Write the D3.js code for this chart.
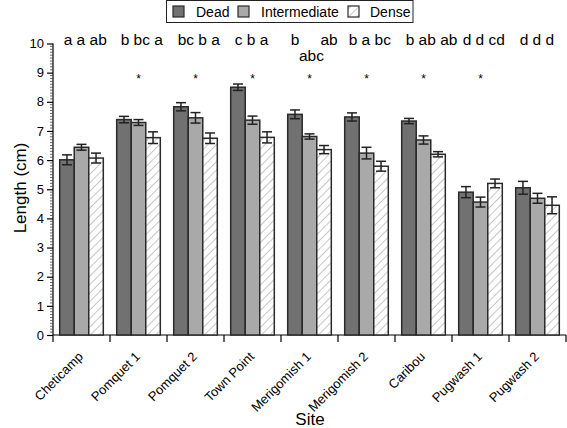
<!DOCTYPE html>
<html><head><meta charset="utf-8">
<script src="https://cdn.jsdelivr.net/npm/d3@7"></script>
<style>body{margin:0;background:#fff}svg{display:block;font-family:"Liberation Sans",Arial,sans-serif}</style>
</head><body><svg id="c" width="567" height="428"></svg>
<script>
const sites = ["Cheticamp","Pomquet 1","Pomquet 2","Town Point","Merigomish 1","Merigomish 2","Caribou","Pugwash 1","Pugwash 2"];
const seriesNames = ["Dead","Intermediate","Dense"];
const dead = [6.01,7.39,7.83,8.50,7.57,7.48,7.34,4.90,5.05];
const deadErr = [0.17,0.11,0.14,0.11,0.15,0.14,0.09,0.19,0.22];
const intermediate = [6.44,7.29,7.45,7.37,6.81,6.24,6.69,4.56,4.69];
const intermediateErr = [0.10,0.10,0.18,0.14,0.09,0.20,0.14,0.17,0.17];
const dense = [6.07,6.77,6.75,6.78,6.36,5.79,6.20,5.20,4.45];
const denseErr = [0.17,0.20,0.18,0.19,0.14,0.17,0.09,0.15,0.29];
const letters = [
  ["a","a","ab"],["b","bc","a"],["bc","b","a"],["c","b","a"],["b","abc","ab"],
  ["b","a","bc"],["b","ab","ab"],["d","d","cd"],["d","d","d"]];
// which letter (series index) sits on a second line, per site (-1 = none)
const lowered = [-1,-1,-1,-1,1,-1,-1,-1,-1];
const starred = [false,true,true,true,true,true,true,true,false];
const yTicks = [0,1,2,3,4,5,6,7,8,9,10];

const svg = d3.select("#c");
const defs = svg.append("defs");
const pat = defs.append("pattern").attr("id","hatch").attr("patternUnits","userSpaceOnUse")
  .attr("width",6).attr("height",6).attr("patternTransform","rotate(45)");
pat.append("rect").attr("width",6).attr("height",6).attr("fill","#fff");
pat.append("line").attr("x1",0).attr("y1",0).attr("x2",0).attr("y2",6).attr("stroke","#a0a0a0").attr("stroke-width",1.2);

const fills = ["#717171","#a9a9a9","url(#hatch)"];
const vals = [dead,intermediate,dense];
const errs = [deadErr,intermediateErr,denseErr];

const X0 = 53, X1 = 566;
const x0 = d3.scaleBand().domain(sites).range([X0,X1]).paddingInner(0.235).paddingOuter(0.1175);
const band = d3.scaleBand().domain(seriesNames).range([0,x0.bandwidth()]);
const xb = d3.scaleBand().domain(sites).range([X0,X1]);
const y = d3.scaleLinear().domain([0,10]).range([335,43.5]);

// y axis
const ya = svg.append("g").attr("transform",`translate(${X0},0)`)
  .call(d3.axisLeft(y).tickValues(yTicks).tickSize(6).tickFormat(d3.format("d")));
ya.select(".domain").attr("stroke","#000").attr("stroke-width",1.2).attr("d",`M0,${y(10)}V${y(0)}`);
ya.selectAll("text").attr("font-size",13).attr("font-family","Liberation Sans, Arial").attr("fill","#000");
ya.selectAll("line").attr("stroke","#000").attr("stroke-width",1.2);
const minor = d3.range(0,100).map(i=>i/10).filter(v=>Math.abs(v-Math.round(v))>1e-6);
svg.append("g").selectAll("line").data(minor).join("line")
  .attr("x1",X0-3).attr("x2",X0).attr("y1",d=>y(d)).attr("y2",d=>y(d))
  .attr("stroke","#444").attr("stroke-width",0.8);

// x axis
const xa = svg.append("g").attr("transform","translate(0,335)");
xa.append("line").attr("x1",X0).attr("x2",X1).attr("stroke","#000").attr("stroke-width",1.2);
const bounds = sites.map(s=>xb(s)).concat([X1]);
xa.selectAll("line.t").data(bounds).join("line").attr("class","t")
  .attr("x1",d=>d).attr("x2",d=>d).attr("y1",0).attr("y2",7).attr("stroke","#000").attr("stroke-width",1.2);
xa.selectAll("text").data(sites).join("text")
  .attr("transform",d=>`translate(${xb(d)+xb.bandwidth()/2-4},${16}) rotate(-45)`)
  .attr("text-anchor","end").attr("dy","0.7em").attr("font-size",13).text(d=>d);

// bars
sites.forEach((s,i)=>{
  const g = svg.append("g").attr("transform",`translate(${x0(s)},0)`);
  seriesNames.forEach((n,k)=>{
    const v = vals[k][i], e = errs[k][i];
    const bx = band(n), bw = band.bandwidth(), cx = bx+bw/2;
    g.append("rect").attr("x",bx).attr("y",y(v)).attr("width",bw).attr("height",y(0)-y(v))
      .attr("fill",fills[k]).attr("stroke","#2a2a2a").attr("stroke-width",1.5);
    g.append("line").attr("x1",cx).attr("x2",cx).attr("y1",y(v+e)).attr("y2",y(v-e)).attr("stroke","#222").attr("stroke-width",1.5);
    [v+e,v-e].forEach(t=>g.append("line").attr("x1",cx-5).attr("x2",cx+5).attr("y1",y(t)).attr("y2",y(t)).attr("stroke","#222").attr("stroke-width",1.5));
  });
  // significance letters
  if(lowered[i] < 0){
    g.append("text").attr("x",4).attr("y",45).attr("font-size",15.5)
      .text(letters[i].join(" "));
  } else {
    seriesNames.forEach((n,k)=>{
      const cx = band(n)+band.bandwidth()/2;
      const low = k===lowered[i];
      g.append("text").attr("x",cx+(low?2:(k===2?5:0))).attr("y",low?61:45)
        .attr("text-anchor","middle").attr("font-size",15.5).text(letters[i][k]);
    });
  }
  if(starred[i]) svg.append("text").attr("x",xb(s)+xb.bandwidth()/2).attr("y",83)
    .attr("text-anchor","middle").attr("font-size",12).text("*");
});

// axis titles
svg.append("text").attr("transform","translate(26,188) rotate(-90)").attr("text-anchor","middle")
  .attr("font-size",17).text("Length (cm)");
svg.append("text").attr("x",310).attr("y",425).attr("text-anchor","middle").attr("font-size",17).text("Site");

// legend
const lg = svg.append("g");
lg.append("rect").attr("x",166.5).attr("y",0.5).attr("width",246.5).attr("height",22).attr("fill","#fff").attr("stroke","#222").attr("stroke-width",1);
const lx = [173,238,348], tx=[196,261,370];
seriesNames.forEach((n,k)=>{
  lg.append("rect").attr("x",lx[k]).attr("y",6).attr("width",11).attr("height",11)
    .attr("fill",fills[k]).attr("stroke","#2a2a2a").attr("stroke-width",1.2);
  lg.append("text").attr("x",tx[k]).attr("y",17).attr("font-size",14).text(n);
});
</script></body></html>
